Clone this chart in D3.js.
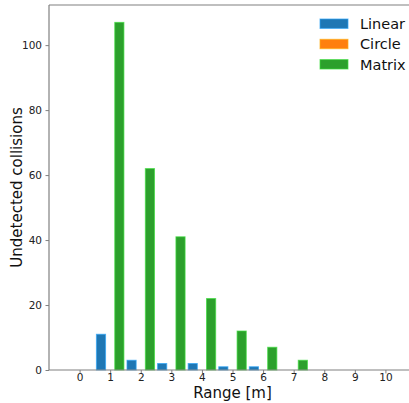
<!DOCTYPE html>
<html>
<head>
<meta charset="utf-8">
<script src="https://cdn.jsdelivr.net/npm/d3@7"></script>
<style>
  html, body { margin: 0; padding: 0; background: #fff; }
  svg { display: block; font-family: "DejaVu Sans", sans-serif; }
</style>
</head>
<body>
<svg id="chart" width="409" height="403"></svg>
<script>
// Undetected collisions per range bin, one series per layout
const ranges = [0, 1, 2, 3, 4, 5, 6, 7, 8, 9, 10];
const seriesNames = ["Linear", "Circle", "Matrix"];
const linearValues = [0, 11, 3, 2, 2, 1, 1, 0, 0, 0, 0];
const circleValues = [0, 0, 0, 0, 0, 0, 0, 0, 0, 0, 0];
const matrixValues = [0, 107, 62, 41, 22, 12, 7, 3, 0, 0, 0];
const yTicks = [0, 20, 40, 60, 80, 100];
const colors = ["#1f77b4", "#ff7f0e", "#2ca02c"];

const series = [linearValues, circleValues, matrixValues];

const svg = d3.select("#chart");
const margin = { left: 49, top: 5, right: -7, bottom: 33 };
const W = 409, H = 403;
const x0 = margin.left, x1 = W - margin.right;
const y0 = H - margin.bottom, y1 = margin.top;

const x = d3.scaleLinear().domain([-1, 11]).range([x0, x1]);
const y = d3.scaleLinear().domain([0, 112.35]).range([y0, y1]);

const barW = 0.3;
const offsets = [-0.3, 0, 0.3];

// bars
series.forEach((vals, si) => {
  svg.append("g").selectAll("rect")
    .data(vals.map((v, i) => ({ r: ranges[i], v })))
    .join("rect")
    .attr("x", d => x(d.r + offsets[si] - barW / 2))
    .attr("width", d => x(barW) - x(0))
    .attr("y", d => y(d.v))
    .attr("height", d => y(0) - y(d.v))
    .attr("fill", colors[si])
    .attr("stroke", d => d.v > 0 ? d3.color(colors[si]).brighter(0.9) : "none")
    .attr("stroke-opacity", 0.7)
    .attr("stroke-width", 1);
});

// axes
const axisColor = "#808080";
const xAxis = svg.append("g")
  .attr("transform", `translate(0,${y0})`)
  .call(d3.axisBottom(x).tickValues(ranges).tickSize(3.5).tickPadding(0.5).tickSizeOuter(0));
const yAxis = svg.append("g")
  .attr("transform", `translate(${x0},0)`)
  .call(d3.axisLeft(y).tickValues(yTicks).tickSize(3.5).tickPadding(3.5).tickSizeOuter(0));

[xAxis, yAxis].forEach(g => {
  g.select(".domain").attr("stroke", axisColor).attr("stroke-width", 1.2);
  g.selectAll(".tick line").attr("stroke", axisColor).attr("stroke-width", 1);
  g.selectAll(".tick text").attr("fill", "#222").style("font-size", "10.5px")
    .style("font-family", "DejaVu Sans, sans-serif");
});
yAxis.select(".domain").attr("d", `M0,${y0}V${y1}`);
xAxis.select(".domain").attr("d", `M${x0},0H${x1}`);

// top spine
svg.append("line")
  .attr("x1", x0).attr("x2", x1).attr("y1", y1).attr("y2", y1)
  .attr("stroke", axisColor).attr("stroke-width", 1.2);

// axis labels
svg.append("text")
  .attr("x", (x0 + x1) / 2).attr("y", 397.5)
  .attr("text-anchor", "middle")
  .style("font-size", "15px").attr("fill", "#111")
  .text("Range [m]");

svg.append("text")
  .attr("transform", `translate(22,${(y0 + y1) / 2}) rotate(-90)`)
  .attr("text-anchor", "middle")
  .style("font-size", "15px").attr("fill", "#111")
  .text("Undetected collisions");

// legend
const legend = svg.append("g");
seriesNames.forEach((name, i) => {
  const cy = 23.7 + i * 20.3;
  legend.append("rect")
    .attr("x", 320).attr("y", cy - 4.7).attr("width", 28).attr("height", 9.4)
    .attr("fill", colors[i])
    .attr("stroke", d3.color(colors[i]).brighter(0.9)).attr("stroke-opacity", 0.7);
  legend.append("text")
    .attr("x", 360).attr("y", cy + 5.2)
    .style("font-size", "14.5px").attr("fill", "#111")
    .text(name);
});
</script>
</body>
</html>
